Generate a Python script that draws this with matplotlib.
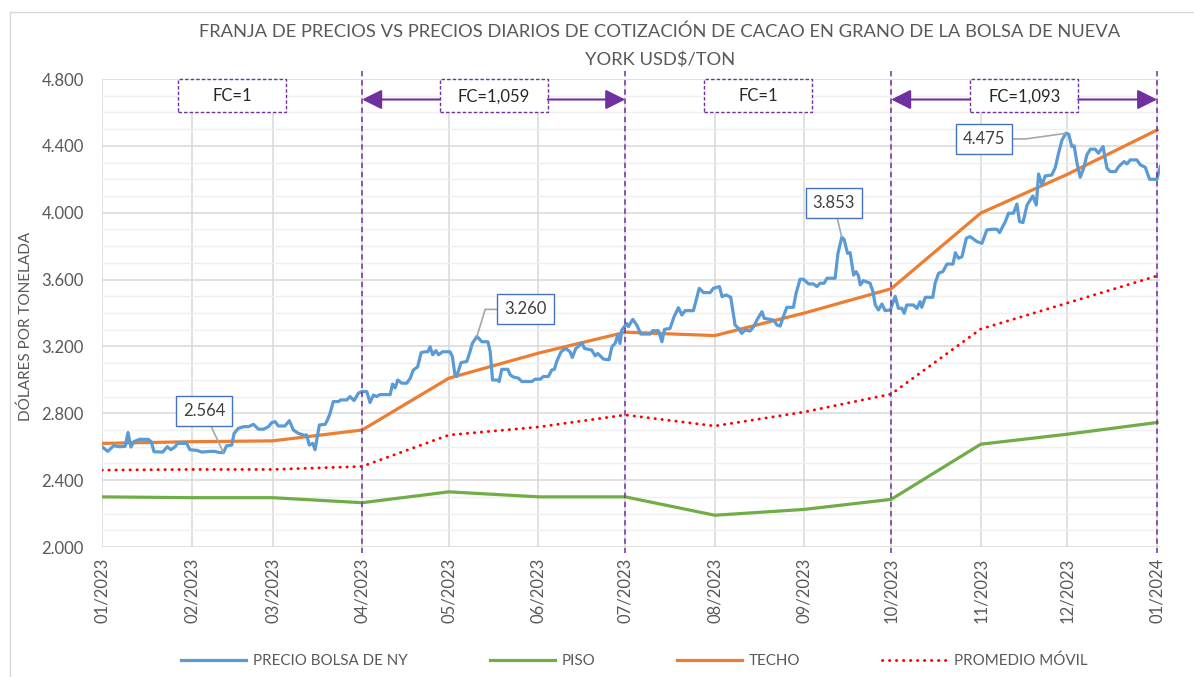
import numpy as np
import pandas as pd
import matplotlib
matplotlib.use("Agg")
import matplotlib.pyplot as plt
import matplotlib.dates as mdates
from matplotlib.patches import Rectangle
from matplotlib.lines import Line2D
from matplotlib.transforms import blended_transform_factory
from matplotlib.ticker import FuncFormatter, MultipleLocator

plt.rcParams['font.family'] = ['Lato', 'DejaVu Sans']

# ---------------- data ----------------
base_date = "2023-01-01"
# daily price (days since 2023-01-01, USD/ton)
dias = [0, 2, 4, 6, 8, 9, 10, 11, 13, 16, 17, 18, 21, 22.6, 23.8, 25.3, 26.1, 29.3, 30.4, 32.8, 34.5,
        37.4, 39.1, 40.3, 42.0, 43.1, 44.9, 45.7, 47.2, 49.0, 50.7, 52.4, 54.1, 55.9, 57.6, 58.7, 59.9,
        61.0, 63.3, 64.8, 66.2, 67.9, 69.7, 70.8, 71.7, 72.9, 73.7, 75.2, 77.2, 78.0, 78.9, 80.0, 81.8,
        82.6, 84.7, 85.8, 87.2, 88.7, 89.9, 91.6, 92.7, 93.9, 95.0, 96.2, 99.7, 100.5, 101.4, 102.3,
        103.7, 105.4, 106.6, 107.7, 109.2, 110.4, 111.8, 112.7, 113.5, 114.4, 115.5, 116.4, 117.8,
        120.4, 121.2, 122.1, 122.7, 124.2, 126.2, 127.3, 128.1, 129.7, 131.4, 133.5, 134.3, 135.1,
        136.9, 137.4, 138.3, 140.4, 141.2, 142.3, 144.1, 145.2, 148.7, 149.8, 151.6, 152.7, 154.4,
        155.6, 156.5, 157.3, 158.8, 160.4, 161.9, 162.7, 163.9, 165.4, 166.0, 166.9, 169.4, 170.6,
        171.5, 173.5, 175.4, 176.4, 177.5, 178.4, 179.2, 179.8, 180.7, 181.5, 182.1, 183.6, 185.0,
        186.4, 189.6, 190.5, 192.5, 193.7, 194.6, 196.5, 197.9, 199.4, 200.6, 201.7, 204.6, 205.5,
        206.6, 208.1, 210.4, 211.5, 213.6, 214.5, 215.9, 217.5, 219.0, 220.2, 221.3, 222.5, 224.2,
        225.4, 226.7, 228.3, 229.1, 231.1, 232.3, 233.5, 234.6, 235.7, 236.9, 239.2, 240.1, 241.5,
        242.7, 244.4, 246.1, 247.3, 248.4, 249.8, 250.8, 253.6, 254.6, 255.9, 256.7, 257.9, 258.8,
        260.0, 260.9, 261.7, 262.3, 263.4, 265.7, 266.7, 267.5, 268.6, 269.8, 270.9, 272.7, 274.4,
        275.5, 276.7, 277.5, 278.4, 280.7, 281.9, 283.0, 283.6, 284.8, 287.4, 288.2, 289.4, 290.9,
        292.3, 294.4, 295.2, 296.3, 297.5, 299.0, 300.3, 302.7, 304.4, 306.1, 307.9, 309.6, 310.5,
        312.5, 313.6, 315.3, 316.5, 317.4, 318.6, 320.0, 322.0, 323.2, 324.0, 325.2, 326.3, 328.6,
        329.8, 330.9, 332.1, 333.4, 334.4, 335.5, 336.3, 337.3, 338.4, 339.6, 340.7, 341.9, 343.6,
        344.7, 346.3, 347.1, 347.7, 348.8, 350.6, 351.7, 353.6, 354.6, 355.7, 358.0, 359.2, 360.9,
        362.4, 364.9, 366.1]
precio = [2600, 2572, 2606, 2600, 2602, 2685, 2598, 2630, 2644, 2644, 2630, 2570, 2568, 2600, 2582,
          2600, 2620, 2620, 2582, 2578, 2568, 2572, 2572, 2566, 2564, 2605, 2610, 2680, 2710, 2720,
          2720, 2734, 2705, 2705, 2720, 2744, 2750, 2724, 2724, 2756, 2700, 2680, 2670, 2670, 2610,
          2620, 2582, 2730, 2734, 2760, 2800, 2870, 2870, 2880, 2880, 2900, 2876, 2920, 2930, 2930,
          2864, 2909, 2900, 2912, 2912, 2975, 2952, 2999, 2980, 2980, 3009, 3059, 3078, 3163, 3168,
          3168, 3198, 3150, 3175, 3150, 3168, 3168, 3140, 3029, 3020, 3103, 3110, 3168, 3218, 3260,
          3228, 3228, 3168, 2999, 2999, 2990, 3063, 3063, 3030, 3017, 3010, 2990, 2990, 3004, 3004,
          3020, 3020, 3059, 3063, 3110, 3168, 3188, 3168, 3134, 3188, 3208, 3222, 3188, 3178, 3144,
          3158, 3124, 3120, 3198, 3218, 3268, 3218, 3298, 3318, 3337, 3318, 3362, 3328, 3274, 3274,
          3294, 3294, 3228, 3302, 3308, 3378, 3432, 3388, 3414, 3414, 3474, 3548, 3522, 3522, 3548,
          3558, 3498, 3508, 3494, 3328, 3308, 3278, 3298, 3292, 3318, 3362, 3408, 3368, 3362, 3358,
          3328, 3322, 3378, 3434, 3434, 3518, 3602, 3602, 3574, 3574, 3558, 3578, 3578, 3608, 3608,
          3757, 3853, 3841, 3757, 3761, 3627, 3647, 3622, 3568, 3594, 3578, 3528, 3448, 3418, 3454,
          3414, 3418, 3500, 3428, 3428, 3398, 3448, 3448, 3428, 3468, 3434, 3494, 3494, 3578, 3638,
          3648, 3693, 3693, 3761, 3727, 3737, 3847, 3857, 3827, 3817, 3897, 3901, 3901, 3881, 3947,
          3997, 3997, 4052, 3947, 3941, 4046, 4100, 4046, 4232, 4166, 4220, 4226, 4272, 4356, 4435,
          4475, 4470, 4396, 4400, 4296, 4212, 4266, 4346, 4380, 4380, 4356, 4396, 4316, 4266, 4246,
          4246, 4276, 4306, 4292, 4316, 4316, 4286, 4272, 4200, 4200, 4276]

meses = ["2023-01-01", "2023-02-01", "2023-03-01", "2023-04-01", "2023-05-01", "2023-06-01",
         "2023-07-01", "2023-08-01", "2023-09-01", "2023-10-01", "2023-11-01", "2023-12-01",
         "2024-01-01"]
piso = [2300, 2295, 2295, 2265, 2330, 2300, 2300, 2190, 2225, 2285, 2615, 2675, 2745]
techo = [2620, 2630, 2635, 2700, 3010, 3160, 3285, 3265, 3400, 3545, 3998, 4230, 4495]
promedio = [2460, 2464, 2464, 2482, 2670, 2718, 2790, 2724, 2808, 2915, 3304, 3460, 3622]

cortes_fc = ["2023-01-01", "2023-04-01", "2023-07-01", "2023-10-01", "2024-01-01"]
etiquetas_fc = ["FC=1", "FC=1,059", "FC=1", "FC=1,093"]

etiquetas_pico = ["2.564", "3.260", "3.853", "4.475"]
dias_pico = [42.0, 129.7, 255.9, 333.4]
valores_pico = [2564, 3260, 3853, 4475]

titulo_1 = "FRANJA DE PRECIOS VS PRECIOS DIARIOS DE COTIZACIÓN DE CACAO EN GRANO DE LA BOLSA DE NUEVA"
titulo_2 = "YORK USD$/TON"
etiqueta_y = "DÓLARES POR TONELADA"
nombres = ["PRECIO BOLSA DE NY", "PISO", "TECHO", "PROMEDIO MÓVIL"]

# ---------------- figure ----------------
W, H = 1194, 677
fig = plt.figure(figsize=(W / 100, H / 100), dpi=100)
ax = fig.add_axes([102 / W, 1 - 547 / H, (1160 - 102) / W, (547 - 79) / H])

t0 = mdates.date2num(pd.Timestamp(base_date))
x_precio = t0 + np.asarray(dias, dtype=float)
x_mes = mdates.date2num(pd.to_datetime(meses))

gray_txt = "#595959"
purple = "#7030A0"

l1, = ax.plot(x_precio, precio, color="#5B9BD5", lw=2.3, solid_joinstyle="round", zorder=5)
l2, = ax.plot(x_mes, piso, color="#70AD47", lw=2.3, zorder=4)
l3, = ax.plot(x_mes, techo, color="#ED7D31", lw=2.3, zorder=4)
l4, = ax.plot(x_mes, promedio, color="#FF0000", lw=2.1, linestyle=(0, (0.1, 2.3)),
              dash_capstyle="round", zorder=4)

ax.xaxis_date()
ax.set_xlim(t0, mdates.date2num(pd.Timestamp("2024-01-02")))
ax.set_ylim(2000, 4800)
ax.xaxis.set_major_locator(mdates.MonthLocator())
ax.xaxis.set_major_formatter(mdates.DateFormatter("%m/%Y"))
ax.yaxis.set_major_locator(MultipleLocator(400))
ax.yaxis.set_minor_locator(MultipleLocator(100))
ax.yaxis.set_major_formatter(FuncFormatter(lambda v, p: f"{v:,.0f}".replace(",", ".")))
for s in ax.spines.values():
    s.set_visible(False)
ax.grid(True, which="major", color="#D9D9D9", lw=1.1)
ax.grid(True, which="minor", axis="y", color="#EFEFEF", lw=1.0)
ax.set_axisbelow(True)
ax.tick_params(axis="both", which="both", length=0, colors=gray_txt, labelsize=12)
ax.tick_params(axis="x", pad=8, labelrotation=90)
ax.tick_params(axis="y", pad=13)
ax.set_ylabel(etiqueta_y, color=gray_txt, fontsize=11, va="center")
ax.yaxis.set_label_coords((25.5 - 102) / 1058, (547 - 326.5) / 468)

# quarter divider lines and FC boxes
bt = blended_transform_factory(ax.transData, ax.transAxes)
cortes = mdates.date2num(pd.to_datetime(cortes_fc))
for c in cortes[1:]:
    ax.axvline(c, ymin=-0.012, ymax=1.02, color=purple, lw=1.1, linestyle=(0, (3.5, 2.5)),
               clip_on=False, zorder=6)

box_w = 37.4  # days
box_y0, box_y1 = 1 - 33 / 468, 1.0
arrow_y = 1 - 20.5 / 468
for i, lab in enumerate(etiquetas_fc):
    a, b = cortes[i], cortes[i + 1]
    mid = (a + b) / 2
    left = mid - box_w / 2
    right = mid + box_w / 2
    ax.add_patch(Rectangle((left, box_y0), box_w, box_y1 - box_y0,
                           transform=bt, facecolor="white", edgecolor=purple, lw=1.0,
                           linestyle=(0, (2.5, 1.5)), zorder=7, clip_on=False))
    ax.text(mid, (box_y0 + box_y1) / 2 - 0.002, lab, transform=bt, ha="center", va="center",
            fontsize=12, color="#262626", zorder=8)
    if lab != "FC=1":
        for start, end in ((left, a), (right, b)):
            ax.annotate("", xy=(end, arrow_y), xytext=(start, arrow_y), xycoords=bt, textcoords=bt,
                        arrowprops=dict(arrowstyle="-|>", color=purple, lw=1.5,
                                        mutation_scale=30, shrinkA=0, shrinkB=0),
                        zorder=7)

# peak/valley callouts
offsets = [(-19.5, 42), (48.6, 27), (-8, 34.5), (-82, -5.6)]
styles = ["arc3", "angle,angleA=180,angleB=73,rad=0", "arc3", "angle,angleA=0,angleB=188,rad=0"]
for lab, d, v, off, cs in zip(etiquetas_pico, dias_pico, valores_pico, offsets, styles):
    ax.annotate(lab, xy=(t0 + d, v), xytext=off, textcoords="offset pixels",
                ha="center", va="center", fontsize=12, color="#404040", zorder=9,
                bbox=dict(boxstyle="square,pad=0.42", fc="white", ec="#4472C4", lw=1.0),
                arrowprops=dict(arrowstyle="-", color="#A6A6A6", lw=1.2, connectionstyle=cs,
                                shrinkA=0, shrinkB=0))

# title
fig.text(660 / W, 1 - 31.7 / H, titulo_1, ha="center", va="center", fontsize=13.25, color=gray_txt)
fig.text(660 / W, 1 - 60 / H, titulo_2, ha="center", va="center", fontsize=13.25, color=gray_txt)

# legend
fig.legend([l1, l2, l3, l4], nombres, loc="center", bbox_to_anchor=(634.5 / W, 1 - 660.7 / H),
           ncol=4, frameon=False, fontsize=10.9, handlelength=4.3, handletextpad=0.45,
           columnspacing=5.4, labelcolor=gray_txt)

# chart area border
fig.add_artist(Line2D([10 / W, 10 / W], [0, 1 - 12 / H], color="#D9D9D9", lw=1.0))
fig.add_artist(Line2D([10 / W, 1], [1 - 12 / H, 1 - 12 / H], color="#D9D9D9", lw=1.0))

fig.savefig("out.png", dpi=100)
